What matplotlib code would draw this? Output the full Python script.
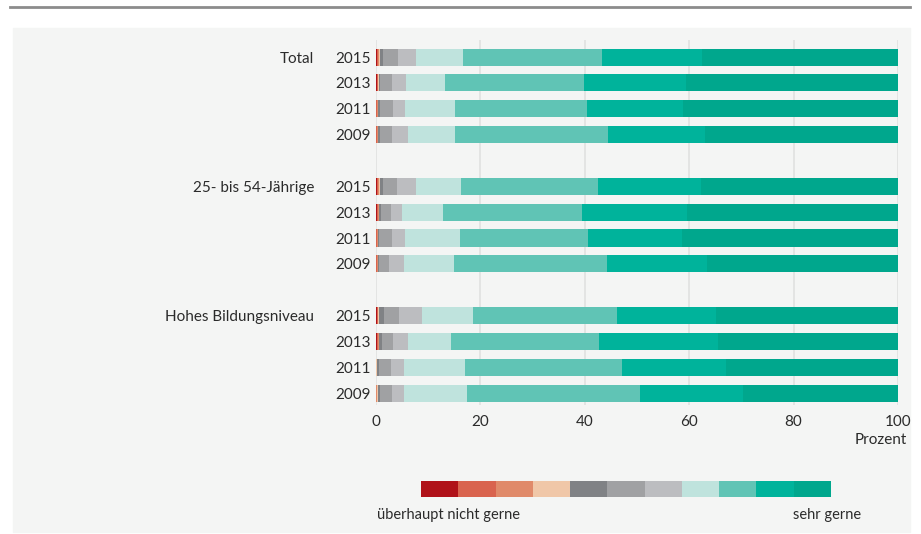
import matplotlib
matplotlib.use("Agg")
import matplotlib.pyplot as plt
from matplotlib.patches import Rectangle
from matplotlib.lines import Line2D
from matplotlib.transforms import blended_transform_factory

plt.rcParams['font.family'] = ['Lato', 'DejaVu Sans']

# answer categories from "überhaupt nicht gerne" (left) to "sehr gerne" (right)
colors = ['#b01219', '#d9634e', '#e08a6a', '#f0c7a8', '#808285', '#a0a1a3',
          '#bcbdc0', '#bfe3dd', '#60c4b5', '#00b39b', '#00a78d']

groups = ["Total", "25- bis 54-Jährige", "Hohes Bildungsniveau"]
years = ["2015", "2013", "2011", "2009"]

# shares in percent per category, rows = years (2015, 2013, 2011, 2009)
total = [
    [0.1, 0.25, 0.15, 0.2, 0.6, 2.9, 3.5, 8.9, 26.6, 19.2, 37.6],
    [0.1, 0.25, 0.1, 0.05, 0.3, 2.2, 2.7, 7.5, 26.6, 19.6, 40.6],
    [0.05, 0.15, 0.15, 0.1, 0.25, 2.6, 2.3, 9.5, 25.3, 18.5, 41.1],
    [0.05, 0.1, 0.15, 0.15, 0.35, 2.3, 3.1, 8.9, 29.3, 18.6, 37.0],
]
age_25_54 = [
    [0.1, 0.25, 0.15, 0.2, 0.6, 2.7, 3.6, 8.6, 26.3, 19.7, 37.8],
    [0.15, 0.3, 0.1, 0.05, 0.3, 1.9, 2.1, 7.9, 26.7, 20.0, 40.5],
    [0.05, 0.15, 0.15, 0.1, 0.15, 2.5, 2.5, 10.4, 24.7, 18.0, 41.3],
    [0.05, 0.15, 0.15, 0.1, 0.15, 1.9, 2.9, 9.6, 29.2, 19.2, 36.6],
]
high_edu = [
    [0.1, 0.2, 0.15, 0.15, 0.9, 3.0, 4.4, 9.7, 27.5, 19.0, 34.9],
    [0.1, 0.25, 0.15, 0.05, 0.55, 2.2, 2.8, 8.2, 28.4, 22.8, 34.5],
    [0.0, 0.0, 0.05, 0.05, 0.5, 2.3, 2.5, 11.6, 30.1, 19.9, 33.0],
    [0.0, 0.05, 0.1, 0.25, 0.4, 2.3, 2.3, 12.1, 33.1, 19.8, 29.6],
]

W, H = 921, 534
fig = plt.figure(figsize=(W / 100, H / 100), dpi=100)
fig.patch.set_facecolor('white')

# light panel and top rule
fig.patches.append(Rectangle((13 / W, 1 - 532 / H), (910 - 13) / W, (532 - 28) / H,
                             transform=fig.transFigure, color='#f4f5f4', zorder=-5))
fig.lines.append(Line2D([10 / W, 910 / W], [1 - 7 / H] * 2, transform=fig.transFigure,
                        color='#8c8c8c', lw=2, zorder=-5))

ax = fig.add_axes([376 / W, 1 - 405 / H, 522 / W, 365 / H])
ax.set_facecolor('none')

ypos = []
ylabels = []
for g, data in enumerate([total, age_25_54, high_edu]):
    for i, row in enumerate(data):
        y = g * 5 + i
        ypos.append(y)
        ylabels.append(years[i])
        left = 0
        for v, c in zip(row, colors):
            ax.barh(y, v, left=left, height=0.66, color=c, linewidth=0)
            left += v

trans = blended_transform_factory(fig.transFigure, ax.transData)
for g, name in enumerate(groups):
    ax.text(314 / W, g * 5, name, transform=trans, ha='right', va='center_baseline',
            fontsize=11, color='#2b2b2b')

ax.set_xlim(0, 100)
ax.set_ylim(13.46, -0.66)
ax.set_xticks(range(0, 101, 20))
ax.set_yticks(ypos)
ax.set_yticklabels(ylabels)
ax.grid(axis='x', color='#e0e1e0', lw=1.2)
ax.set_axisbelow(True)
for s in ax.spines.values():
    s.set_visible(False)
ax.tick_params(axis='both', length=0, labelsize=11, colors='#2b2b2b')
ax.tick_params(axis='x', pad=7)
ax.tick_params(axis='y', pad=4)

fig.text(907 / W, 1 - 440 / H, "Prozent", ha='right', va='center', fontsize=11, color='#2b2b2b')

# colour legend
lax = fig.add_axes([421 / W, 1 - 497 / H, 410 / W, 16 / H])
lax.bar(range(len(colors)), 1, width=1, align='edge', color=colors, linewidth=0)
lax.set_xlim(0, len(colors))
lax.set_ylim(0, 1)
lax.axis('off')
fig.text(448 / W, 1 - 515 / H, "überhaupt nicht gerne", ha='center', va='center',
         fontsize=10.5, color='#2b2b2b')
fig.text(827 / W, 1 - 515 / H, "sehr gerne", ha='center', va='center',
         fontsize=10.5, color='#2b2b2b')

fig.savefig("out.png", dpi=100)
